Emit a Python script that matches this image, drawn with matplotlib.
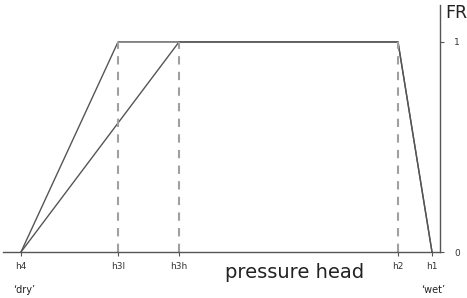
import matplotlib.pyplot as plt

# pressure head positions (arbitrary units, left = dry, right = wet)
h_names = ['h4', 'h3l', 'h3h', 'h2', 'h1']
h_pos = [0, 97, 158, 377, 411]
fr_low = [0, 1, 1, 1, 0]      # reduction curve with h3l
fr_high = [0, 1, 1, 0]        # curve with h3h
x_high = [0, 158, 377, 411]
dashed = [97, 158, 377]

W, H = 467, 298
fig = plt.figure(figsize=(W / 100, H / 100), dpi=100)
ax = fig.add_axes([3 / W, (H - 252) / H, (440 - 3) / W, (252 - 5) / H])

line_c = '#555555'
ax.plot(h_pos, fr_low, color=line_c, lw=1.0)
ax.plot(x_high, fr_high, color=line_c, lw=1.0)
for x in dashed:
    ax.plot([x, x], [0, 1], color='#a0a0a0', lw=1.5, ls=(0, (4, 3.5)))

ax.set_xlim(-18, 419)
ax.set_ylim(0, 1.176)

for s in ['top', 'left']:
    ax.spines[s].set_visible(False)
for s in ['bottom', 'right']:
    ax.spines[s].set_color(line_c)
    ax.spines[s].set_linewidth(1.0)

ax.set_xticks(h_pos)
ax.set_xticklabels(h_names)
ax.yaxis.tick_right()
ax.set_yticks([0, 1])
ax.set_yticklabels(['0', '1'])
ax.tick_params(axis='both', length=3, width=0.8, color=line_c,
               labelsize=6.5, labelcolor='#333333', pad=4)
ax.tick_params(axis='y', pad=7)

fig.text(225 / W, 1 - 273 / H, 'pressure head', fontsize=14,
         color='#222222', va='center', ha='left')
fig.text(445 / W, 1 - 13 / H, 'FR', fontsize=12.5, color='#222222',
         va='center', ha='left')
fig.text(13 / W, 1 - 290 / H, "\u2018dry\u2019", fontsize=7,
         color='#222222', va='center', ha='left')
fig.text(421 / W, 1 - 290 / H, "\u2018wet\u2019", fontsize=7,
         color='#222222', va='center', ha='left')

fig.savefig('out.png', dpi=100)
